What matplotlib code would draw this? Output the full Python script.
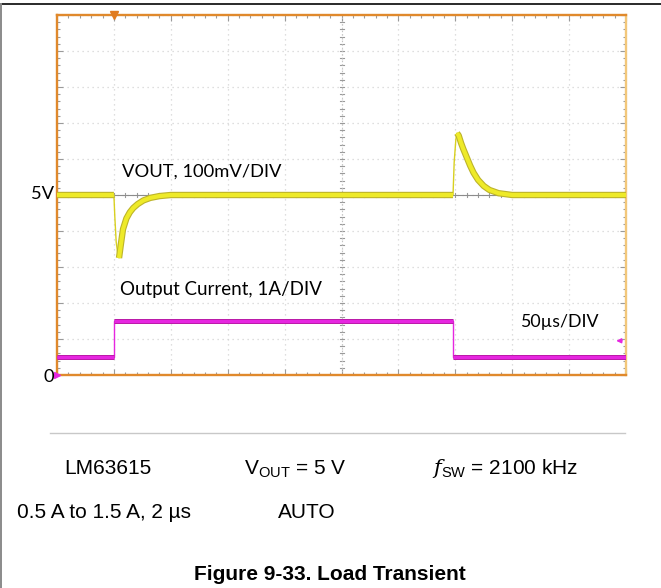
import matplotlib
matplotlib.use("Agg")
import numpy as np
import matplotlib.pyplot as plt
import matplotlib.patheffects as pe
from matplotlib.lines import Line2D
from matplotlib.ticker import MultipleLocator

plt.rcParams["mathtext.fontset"] = "custom"
plt.rcParams["mathtext.rm"] = "Liberation Sans"
plt.rcParams["mathtext.it"] = "DejaVu Serif:italic"

# ---- scope settings ----
time_per_div_us = 50.0
n_div_x = 10
volt_per_div = 0.1          # 100 mV/DIV
amp_per_div = 1.0           # 1 A/DIV
vout_ref_div = 5            # 5 V sits on the centre line
n_div_y = 10
trigger_time_us = 50.0
trigger_level_a = 0.95

# ---- VOUT trace (time in us, volts) ----
vout_t = [0, 50, 50.8, 52, 53.5, 54.5, 56, 58, 61, 64, 67, 71, 76, 82, 90, 100,
          348, 349, 350.5, 351.5, 353, 355, 357, 360, 363, 366, 370, 375, 380, 388, 400, 500]
vout_v = [5.0, 5.0, 4.94, 4.87, 4.835, 4.825, 4.86, 4.905, 4.935, 4.952, 4.964, 4.975, 4.985, 4.992, 4.997, 5.0,
          5.0, 5.09, 5.155, 5.172, 5.165, 5.145, 5.128, 5.105, 5.082, 5.062, 5.042, 5.025, 5.014, 5.005, 5.0, 5.0]

# ---- output current trace (time in us, amps) ----
iout_t = [0, 50, 50, 348, 348, 500]
iout_a = [0.5, 0.5, 1.5, 1.5, 0.5, 0.5]

W, H = 661, 588
fig = plt.figure(figsize=(W / 100, H / 100), dpi=100)
fig.patch.set_facecolor("white")

def fx(px):
    return px / W

def fy(py):
    return 1 - py / H

# page frame lines
fig.add_artist(Line2D([0, 1], [fy(4), fy(4)], color="#2a2a2a", lw=1.4))
fig.add_artist(Line2D([fx(1), fx(1)], [0, fy(4)], color="#8a8a8a", lw=1.4))

# ---- scope screen ----
ax = fig.add_axes([fx(57), fy(375), fx(626) - fx(57), fy(15) - fy(375)])
x_span = n_div_x * time_per_div_us
ax.set_xlim(0, x_span)
ax.set_ylim(0, n_div_y)
ax.set_facecolor("white")

for side in ("left", "top", "bottom"):
    ax.spines[side].set_color("#e0892c")
    ax.spines[side].set_linewidth(1.7)
ax.spines["right"].set_color("#f2c77a")
ax.spines["right"].set_linewidth(1.7)

ax.xaxis.set_major_locator(MultipleLocator(time_per_div_us))
ax.xaxis.set_minor_locator(MultipleLocator(time_per_div_us / 5))
ax.yaxis.set_major_locator(MultipleLocator(1))
ax.yaxis.set_minor_locator(MultipleLocator(0.2))
ax.tick_params(which="both", direction="in", top=True, right=True,
               labelbottom=False, labelleft=False, color="#9a9a9a", width=0.8)
ax.tick_params(which="major", length=4)
ax.tick_params(which="minor", length=2.5)

# dotted graticule
ax.grid(True, which="major", color="#d4d4d4", lw=0.9, ls=(0, (1, 3)))
ax.set_axisbelow(True)

# centre cross with minor ticks
cx = x_span / 2
cy = n_div_y / 2
dx = 2.0 * x_span / 569
dy = 2.0 * n_div_y / 360
for k in range(1, n_div_y * 5):
    yy = k * 0.2
    ax.plot([cx - dx, cx + dx], [yy, yy], color="#9a9a9a", lw=0.8, zorder=1)
for k in range(1, n_div_x * 5):
    xx = k * time_per_div_us / 5
    ax.plot([xx, xx], [cy - dy, cy + dy], color="#9a9a9a", lw=0.8, zorder=1)
ax.plot([0, x_span], [cy, cy], color="#8c8c8c", lw=0.8, zorder=1)
ax.plot([cx, cx], [0, n_div_y], color="#c0c0c0", lw=0.8, ls=(0, (1, 2)), zorder=1)

# ---- VOUT trace: thin leading edges, thick band elsewhere ----
vt = np.array(vout_t, float)
vd = vout_ref_div + (np.array(vout_v, float) - 5.0) / volt_per_div
edge = np.zeros(len(vt), bool)
for ts in sorted(set(t for t, n in zip(iout_t[1:], iout_t[:-1]) if t == n)):
    i0 = np.where(vt == ts)[0][-1]
    win = slice(i0, min(i0 + 8, len(vt)))
    j = i0 + int(np.argmax(np.abs(vd[win] - vout_ref_div)))
    edge[i0 + 1:j] = True
vd_band = np.where(edge, np.nan, vd)

yellow, yellow_edge = "#eeea28", "#bdb42a"
ax.plot(vt, vd, color="#d8d020", lw=1.0, zorder=3)
ax.plot(vt, vd_band, color=yellow, lw=3.0, solid_joinstyle="round", solid_capstyle="butt", zorder=3,
        path_effects=[pe.Stroke(linewidth=4.6, foreground=yellow_edge), pe.Normal()])

# ---- output current trace: thin steps, thick levels ----
it = np.array(iout_t, float)
idv = np.array(iout_a, float) / amp_per_div
magenta, magenta_edge = "#e626e0", "#b3199f"
ax.plot(it, idv, color=magenta, lw=1.0, zorder=3)
for k in range(len(it) - 1):
    if idv[k] == idv[k + 1]:
        ax.plot(it[k:k + 2], idv[k:k + 2], color=magenta, lw=2.4, solid_capstyle="butt", zorder=3,
                path_effects=[pe.Stroke(linewidth=3.6, foreground=magenta_edge), pe.Normal()])

# markers: trigger position, ground level, trigger level
ax.plot([trigger_time_us], [n_div_y], marker="v", color="#e07b20", ms=6, clip_on=False, zorder=5)
ax.plot([0], [0], marker=">", color="#e626e0", ms=4, clip_on=False, zorder=5)
ax.annotate("", xy=(x_span - 11, trigger_level_a / amp_per_div),
            xytext=(x_span - 1, trigger_level_a / amp_per_div),
            arrowprops=dict(arrowstyle="-|>", color="#e626e0", lw=1, mutation_scale=7), zorder=5)

# scope annotations
scope_font = "Lato"
fig.text(fx(54), fy(194), "5V", ha="right", va="center", fontsize=13.2, family=scope_font)
fig.text(fx(54), fy(377), "0", ha="right", va="center", fontsize=13.2, family=scope_font)
fig.text(fx(122), fy(172), "VOUT, 100mV/DIV", ha="left", va="center", fontsize=13.2, family=scope_font)
fig.text(fx(120), fy(290), "Output Current, 1A/DIV", ha="left", va="center", fontsize=13.5, family=scope_font)
fig.text(fx(520), fy(322), "50\u00b5s/DIV", ha="left", va="center", fontsize=12.8, family=scope_font)

# conditions table
fig.add_artist(Line2D([fx(50), fx(625)], [fy(433), fy(433)], color="#c8c8c8", lw=1.0))
tf = dict(fontsize=15, family="Liberation Sans", va="baseline", ha="left")
fig.text(fx(64), fy(474.5), "LM63615", **tf)
fig.text(fx(244), fy(474.5), r"$\mathrm{V}_{\mathrm{OUT}}$ = 5 V", **tf)
fig.text(fx(432), fy(474.5), r"$\mathit{f}_{\mathrm{SW}}$ = 2100 kHz", **tf)
fig.text(fx(17), fy(517.5), "0.5 A to 1.5 A, 2 \u00b5s", **tf)
fig.text(fx(278), fy(517.5), "AUTO", **tf)
fig.text(fx(330), fy(580), "Figure 9-33. Load Transient", fontsize=15, family="Liberation Sans",
         weight="bold", ha="center", va="baseline")

fig.savefig("out.png", dpi=100, facecolor="white")
